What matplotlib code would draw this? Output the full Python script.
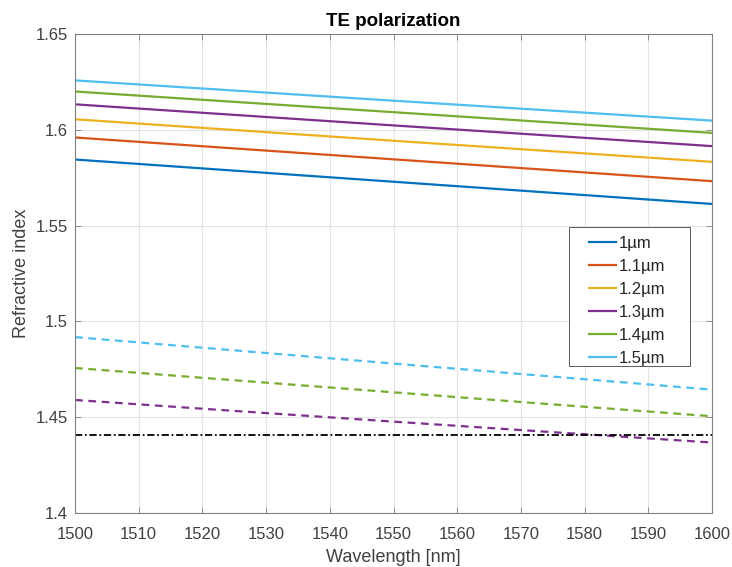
import matplotlib
matplotlib.use('Agg')

import numpy as np
import matplotlib.pyplot as plt
from matplotlib.patches import Rectangle
from matplotlib.ticker import FuncFormatter

# Datos
wavelength = [1500, 1525, 1550, 1575, 1600]

widths = ['1µm', '1.1µm', '1.2µm', '1.3µm', '1.4µm', '1.5µm']

# modo fundamental (linea continua)
n_1_0 = [1.5845, 1.5787, 1.5729, 1.5671, 1.5613]
n_1_1 = [1.5960, 1.5903, 1.5846, 1.5789, 1.5732]
n_1_2 = [1.6055, 1.5999, 1.5943, 1.5888, 1.5833]
n_1_3 = [1.6133, 1.6078, 1.6023, 1.5969, 1.5915]
n_1_4 = [1.6200, 1.6146, 1.6092, 1.6038, 1.5984]
n_1_5 = [1.6258, 1.6205, 1.6152, 1.6100, 1.6048]

# modo de orden superior (linea discontinua)
n2_1_3 = [1.4590, 1.4533, 1.4477, 1.4422, 1.4368]
n2_1_4 = [1.4757, 1.4693, 1.4630, 1.4567, 1.4505]
n2_1_5 = [1.4918, 1.4849, 1.4780, 1.4712, 1.4644]

# cladding
n_clad = [1.4405, 1.4405, 1.4405, 1.4405, 1.4405]

colores = [(0, 0.447, 0.741), (0.85, 0.325, 0.098), (0.929, 0.694, 0.125),
           (0.494, 0.184, 0.556), (0.466, 0.674, 0.188), (0.301, 0.745, 0.933)]

plt.rcParams['font.family'] = ['Liberation Sans', 'DejaVu Sans']

fig = plt.figure(figsize=(7.32, 5.67), dpi=100)
ax = fig.add_axes([0.1025, 0.0952, 0.8702, 0.8448])

solidas = [n_1_0, n_1_1, n_1_2, n_1_3, n_1_4, n_1_5]
for serie, c, lab in zip(solidas, colores, widths):
    ax.plot(wavelength, serie, color=c, lw=1.6, label=lab)

for serie, c in zip([n2_1_3, n2_1_4, n2_1_5], colores[3:]):
    ax.plot(wavelength, serie, color=c, lw=1.6, ls=(0, (3.5, 2.5)))

ax.plot(wavelength, n_clad, color='black', lw=1.3, ls=(0, (4, 1.5, 1, 1.5)))

ax.set_xlim(1500, 1600)
ax.set_ylim(1.4, 1.65)
ax.set_xticks(np.arange(1500, 1601, 10))
ax.set_yticks([1.4, 1.45, 1.5, 1.55, 1.6, 1.65])
ax.yaxis.set_major_formatter(FuncFormatter(lambda v, p: '%g' % round(v, 2)))

ax.grid(True, color='#e3e3e3', lw=0.8)
ax.set_axisbelow(True)
ax.tick_params(direction='in', top=True, right=True, labelsize=12,
               labelcolor='#404040', color='#808080', length=4, width=0.6)
ax.tick_params(axis='x', pad=10)
ax.tick_params(axis='y', pad=5)
for s in ax.spines.values():
    s.set_color('#808080')
    s.set_linewidth(0.8)

ax.set_xlabel('Wavelength [nm]', fontsize=13, color='#404040', labelpad=5)
ax.set_ylabel('Refractive index', fontsize=13, color='#404040', labelpad=4)
ax.set_title('TE polarization', fontsize=13.5, fontweight='bold', pad=6)

# caja de la leyenda al estilo MATLAB
caja = Rectangle((0.775, 0.306), 0.19, 0.291, transform=ax.transAxes,
                 facecolor='white', edgecolor='#404040', lw=0.6, zorder=4)
ax.add_patch(caja)
leg = ax.legend(loc='upper left', bbox_to_anchor=(0.807, 0.578),
                fontsize=12, handlelength=1.6, handletextpad=0.2,
                labelspacing=0.48, frameon=False, borderpad=0,
                borderaxespad=0)
for t in leg.get_texts():
    t.set_color('#262626')
leg.set_zorder(5)

plt.savefig('out.png', dpi=100)
